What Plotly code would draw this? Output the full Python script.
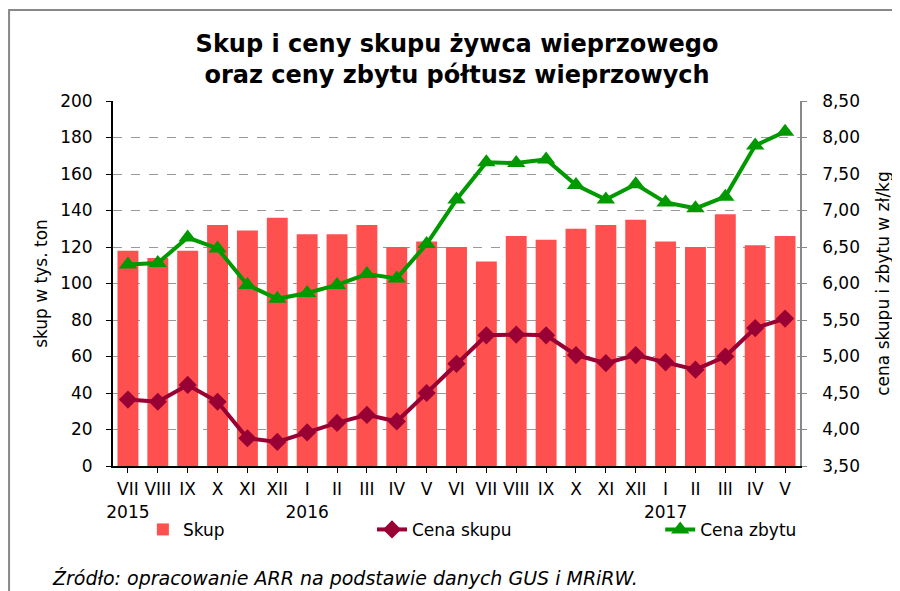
import plotly.graph_objects as go

months = ["VII", "VIII", "IX", "X", "XI", "XII", "I", "II", "III", "IV", "V", "VI",
          "VII", "VIII", "IX", "X", "XI", "XII", "I", "II", "III", "IV", "V"]
years = ["2015", "", "", "", "", "", "2016", "", "", "", "", "",
         "", "", "", "", "", "", "2017", "", "", "", ""]
skup = [118, 114, 118, 132, 129, 136, 127, 127, 132, 120, 123, 120,
        112, 126, 124, 130, 132, 135, 123, 120, 138, 121, 126]
cena_skupu = [4.41, 4.38, 4.61, 4.38, 3.88, 3.83, 3.96, 4.09, 4.20, 4.11, 4.50, 4.90,
              5.29, 5.30, 5.29, 5.02, 4.91, 5.02, 4.92, 4.82, 5.00, 5.39, 5.52]
cena_zbytu = [6.26, 6.28, 6.63, 6.48, 5.98, 5.79, 5.87, 5.98, 6.13, 6.07, 6.54, 7.15,
              7.66, 7.65, 7.70, 7.35, 7.15, 7.36, 7.11, 7.03, 7.19, 7.89, 8.08]

cats = list(range(len(months)))
ticktext = [m + "<br>" + (y if y else " ") for m, y in zip(months, years)]

FONT = "DejaVu Sans, Verdana, sans-serif"

fig = go.Figure()
fig.add_trace(go.Bar(x=cats, y=skup, name="Skup", marker_color="#FF5050",
                     marker_line_width=0, legend="legend", yaxis="y", showlegend=True))
fig.add_trace(go.Scatter(x=cats, y=cena_skupu, name="Cena skupu", yaxis="y2",
                         mode="lines+markers", line=dict(color="#990033", width=4),
                         marker=dict(symbol="diamond", size=14, color="#990033"),
                         legend="legend2", showlegend=True))
fig.add_trace(go.Scatter(x=cats, y=cena_zbytu, name="Cena zbytu", yaxis="y2",
                         mode="lines+markers", line=dict(color="#009900", width=4),
                         marker=dict(symbol="triangle-up", size=16, color="#009900"),
                         legend="legend3", showlegend=True))

leg_common = dict(orientation="h", yanchor="middle", xanchor="left", y=-0.175,
                  font=dict(family=FONT, size=17, color="#000"),
                  bgcolor="rgba(0,0,0,0)", visible=True)

fig.update_layout(
    width=892, height=583,
    showlegend=True,
    margin=dict(l=105, r=100, t=93, b=125, autoexpand=False),
    paper_bgcolor="white", plot_bgcolor="white",
    separators=", ",
    bargap=0.3,
    title=dict(text="<b>Skup i ceny skupu żywca wieprzowego<br>oraz ceny zbytu półtusz wieprzowych</b>",
               x=0.5034, xanchor="center", y=0.9245, yanchor="middle",
               font=dict(family=FONT, size=24, color="#000")),
    font=dict(family=FONT, size=17, color="#000"),
    xaxis=dict(tickmode="array", tickvals=cats, ticktext=ticktext,
               range=[-0.5, len(cats) - 0.5], showline=True, linecolor="#000",
               linewidth=2, ticks="outside", tickson="boundaries", ticklen=5,
               tickcolor="#000", showgrid=False, tickfont=dict(size=17), tickangle=0,
               ticklabelstandoff=2),
    yaxis=dict(range=[0, 200], dtick=20, showline=True, linecolor="#000", linewidth=2,
               ticks="outside", ticklen=5, tickcolor="#000", ticklabelstandoff=10,
               showgrid=True, gridcolor="#999", griddash="dash", gridwidth=1,
               zeroline=False,
               title=dict(text="skup w tys. ton", font=dict(size=17), standoff=8)),
    yaxis2=dict(range=[3.5, 8.5], dtick=0.5, tickformat=".2f", overlaying="y",
                side="right", showline=True, linecolor="#888", linewidth=1.5,
                ticks="outside", ticklen=5, tickcolor="#888", showgrid=False,
                zeroline=False, ticklabelstandoff=12,
                title=dict(text="cena skupu i zbytu w zł/kg", font=dict(size=17), standoff=18)),
    legend=dict(x=0.0435, **leg_common),
    legend2=dict(x=0.377, **leg_common),
    legend3=dict(x=0.7965, **leg_common),
    annotations=[dict(text="<i>Źródło: opracowanie ARR na podstawie danych GUS i MRiRW.</i>",
                      xref="paper", yref="paper", x=-0.0917, y=-0.3068,
                      xanchor="left", yanchor="middle", showarrow=False,
                      font=dict(family=FONT, size=19, color="#000"))],
    shapes=[dict(type="rect", xref="paper", yref="paper", x0=-0.1513, x1=1.3,
                 y0=-0.6, y1=1.2493, line=dict(color="#888", width=2), layer="below")],
)

fig.write_html("out.html")
